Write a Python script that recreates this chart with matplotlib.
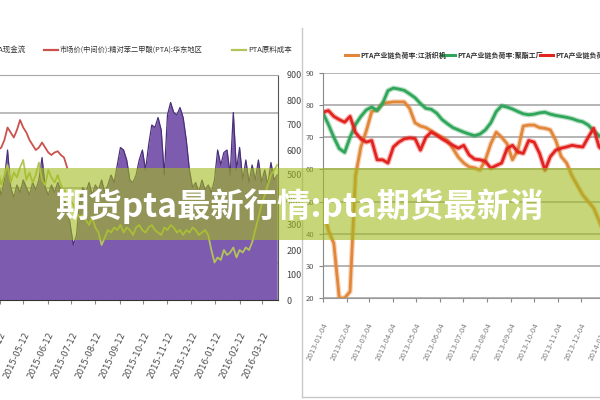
import numpy as np
import pandas as pd
import matplotlib
matplotlib.use("Agg")
import matplotlib.pyplot as plt
import matplotlib.patheffects as pe
from matplotlib.lines import Line2D
from matplotlib.patches import Rectangle
from matplotlib.ticker import FixedLocator, MultipleLocator
import matplotlib.dates as mdates

plt.rcParams['font.family'] = ['Noto Sans CJK SC', 'DejaVu Sans']

# ---- left chart: PTA cash flow (purple area), market price, raw material cost
left_start = '2015-04-06'
left_ticks = ['2015-04-12', '2015-05-12', '2015-06-12', '2015-07-12', '2015-08-12',
              '2015-09-12', '2015-10-12', '2015-11-12', '2015-12-12', '2016-01-12',
              '2016-02-12', '2016-03-12']
cash_flow = [440, 470, 420, 480, 600, 450, 410, 460, 430, 480, 450, 420, 470, 440, 480,
             570, 450, 420, 460, 430, 470, 440, 400,
             380, 300, 220, 260, 400,
             450, 430, 470, 420, 460, 440, 480, 430, 460, 500, 470,
             540, 610, 600, 560, 480,
             470, 500, 560, 600, 520, 620, 700, 690, 730, 680, 500,
             740, 790, 750, 740, 770, 730, 640, 520,
             450, 470, 430, 480, 440, 460, 430,
             480, 600, 540, 590, 600, 500, 750, 520, 610, 480, 560, 470, 540, 480, 560,
             470, 520, 460, 550, 480, 500]
raw_cost = [480, 520, 460, 500, 540, 470, 510, 490, 530, 560, 480, 510, 470, 500, 550,
            480, 460, 520, 490, 470, 500, 460, 440,
            420, 400, 380, 350, 330, 340, 320, 300, 330,
            290, 270, 220, 250, 280,
            270, 290, 280, 300, 270, 290, 280, 260, 290, 300, 280, 270, 290, 300, 280,
            270, 260, 290, 280, 300, 290, 270, 280, 260, 280, 270, 290, 280, 260, 270, 280,
            260, 200, 150, 170, 160,
            200, 180, 190, 210, 170, 200, 190, 210, 200,
            230, 280, 330, 380, 420, 460, 500, 520, 540]
market_price = [580, 600, 610, 640, 690, 670, 650, 680, 720, 690, 670, 640, 620, 600,
                610, 630, 610, 590, 580, 590, 595, 580, 570, 530]

# ---- right chart: PTA industry chain operating rates
right_start = '2013-01-04'
weaving = [48, 41, 37, 20, 20, 22, 58, 67, 72, 78,
           78.5, 80.5, 80.8, 81, 81, 81, 79, 74.5, 73.5, 73,
           72, 70.8, 70, 69, 66.5, 63.8, 62, 60.8, 60.5, 59.8,
           63, 68, 71.6, 70, 68, 63, 66, 73.5, 73.8, 73.8,
           73, 72.8, 72.3, 69, 64, 62, 58, 55, 52, 50,
           48, 44, 40, 39]
polyester = [77.5, 74, 70, 66.5, 65.3, 70, 74, 76.5, 78.5, 79.4,
             78.3, 80.5, 84.5, 85.3, 85, 84.6, 83.5, 82.3, 80.5, 79,
             78.7, 77.5, 75.5, 74.2, 73, 72.3, 71.6, 71, 70.5, 71,
             72.3, 74.5, 78, 79.8, 79.4, 78.8, 78, 77.3, 77, 77.2,
             77.6, 77.8, 77.2, 76.8, 76.5, 76.2, 75.8, 75.2, 74.8, 73.8,
             72, 70.5, 69.5, 69]
pta_plant = [77.8, 78.3, 76.5, 75.5, 74.7, 76.5, 71.5, 69.5, 68.5, 69,
             63, 63, 62, 67, 68.5, 69.5, 69.8, 69.6, 66, 70,
             71.6, 70.7, 69.5, 68.5, 67.5, 66.6, 67.5, 64.5, 63.2, 63,
             62.5, 60.4, 61.2, 62, 66.5, 67.5, 65.4, 65, 69, 68.5,
             65, 59.8, 64, 66, 66.6, 67, 67.5, 67.2, 67, 70,
             72.8, 67, 65.5, 66]

left_names = ['PTA现金流', '市场价(中间价):精对苯二甲酸(PTA):华东地区', 'PTA原料成本']
right_names = ['PTA产业链负荷率:江浙织机', 'PTA产业链负荷率:聚酯工厂', 'PTA产业链负荷率:PTA工厂']
banner_text = '期货pta最新行情:pta期货最新消'

PURPLE = '#7D5BAF'
RED_L = '#C9524C'
OLIVE = '#B4C35A'
ORANGE = '#E2873A'
GREEN = '#2FA659'
RED_R = '#E3231F'

fig = plt.figure(figsize=(6, 4), dpi=100)

# left panel
ax = fig.add_axes([-5 / 600, 0.25, 283 / 600, 0.5625])
d_left = pd.date_range(left_start, periods=len(cash_flow), freq='4D')
ax.fill_between(d_left, 0, cash_flow, color=PURPLE, lw=0, zorder=2)
ax.plot(d_left, cash_flow, color='#4A3078', lw=0.9, zorder=3)
ax.plot(d_left, raw_cost, color=OLIVE, lw=1.3, zorder=4)
ax.plot(d_left[:len(market_price)], market_price, color=RED_L, lw=1.3, zorder=4)
ax.set_xlim(pd.Timestamp(left_start), pd.Timestamp('2016-04-01'))
ax.set_ylim(0, 900)
ax.yaxis.tick_right()
ax.yaxis.set_major_locator(MultipleLocator(100))
ax.yaxis.set_minor_locator(FixedLocator([150, 300, 450, 600, 750]))
ax.grid(which='minor', axis='y', color='#A8A8A8', lw=1.1, zorder=1)
ax.tick_params(axis='y', which='both', length=0, labelsize=6.5, labelcolor='#444444', pad=6)
ax.set_xticks(pd.to_datetime(left_ticks))
ax.set_xticklabels(left_ticks, rotation=65, ha='right', rotation_mode='anchor',
                   fontsize=6.2, color='#4a4a4a', family='DejaVu Sans')
ax.tick_params(axis='x', length=3, color='#888888', pad=19)
ax.spines['left'].set_visible(False)
ax.spines['top'].set_color('#A8A8A8')
ax.spines['bottom'].set_color('#333333')
ax.spines['right'].set_color('#555555')

# right panel
ax2 = fig.add_axes([323 / 600, 0.255, 290 / 600, 0.5625])
d_right = pd.date_range(right_start, periods=len(weaving), freq='7D')
for vals, col in [(weaving, ORANGE), (polyester, GREEN), (pta_plant, RED_R)]:
    ax2.plot(d_right, vals, color=col, lw=2.0,
             path_effects=[pe.Stroke(linewidth=3.8, foreground=col, alpha=0.35), pe.Normal()])
ax2.set_xlim(pd.Timestamp(right_start), pd.Timestamp(right_start) + pd.Timedelta(days=375))
ax2.set_ylim(20, 90)
ax2.yaxis.set_major_locator(MultipleLocator(10))
ax2.grid(axis='y', color='#A0A0A0', lw=1.1)
ax2.tick_params(axis='y', length=3, labelsize=5.5, labelcolor='#555555', color='#888888')
ax2.xaxis.set_major_locator(mdates.MonthLocator(bymonthday=4))
ax2.xaxis.set_major_formatter(mdates.DateFormatter('%Y-%m-%d'))
plt.setp(ax2.get_xticklabels(), rotation=65, ha='right', rotation_mode='anchor',
         fontsize=5.0, color='#777777', family='DejaVu Sans')
ax2.tick_params(axis='x', length=3, color='#888888', pad=14)
for s in ['top', 'right']:
    ax2.spines[s].set_visible(False)
ax2.spines['left'].set_color('#888888')
ax2.spines['bottom'].set_color('#999999')

# right panel frame
fig.add_artist(Line2D([302 / 600, 302 / 600], [3 / 400, 1 - 28 / 400], color='#C8C8C8', lw=1))
fig.add_artist(Line2D([302 / 600, 1], [3 / 400, 3 / 400], color='#C8C8C8', lw=1))

# legends drawn by hand
ly = 1 - 50 / 400
fig.add_artist(Rectangle((-10 / 600, ly - 0.01), 6 / 600, 0.02, color=PURPLE))
fig.text(26 / 600, ly, left_names[0], ha='right', va='center', fontsize=5.4, color='#333333')
fig.add_artist(Line2D([44 / 600, 58 / 600], [ly, ly], color=RED_L, lw=1.6))
fig.text(60 / 600, ly, left_names[1], ha='left', va='center', fontsize=5.2, color='#333333')
fig.add_artist(Line2D([232 / 600, 246 / 600], [ly, ly], color=OLIVE, lw=1.6))
fig.text(248 / 600, ly, left_names[2], ha='left', va='center', fontsize=5.4, color='#333333')

ry = 1 - 55 / 400
for x0, col, name in [(345, ORANGE, right_names[0]), (442, GREEN, right_names[1]),
                      (540, RED_R, right_names[2])]:
    fig.add_artist(Line2D([x0 / 600, (x0 + 13) / 600], [ry, ry], color=col, lw=2.2))
    fig.text((x0 + 15) / 600, ry, name, ha='left', va='center', fontsize=5.0,
             color='#333333', fontweight='bold')

# title banner over the picture
fig.add_artist(Rectangle((0, 0.40), 1, 0.18, transform=fig.transFigure,
                         color='#A3BC1E', alpha=0.6, lw=0, zorder=10))
fig.text(0.5, 1 - 206 / 400, banner_text, ha='center', va='center', fontsize=24,
         fontweight='bold', color='white', zorder=11,
         family=['Noto Sans CJK SC', 'DejaVu Sans'])

fig.savefig('out.png', dpi=100)
